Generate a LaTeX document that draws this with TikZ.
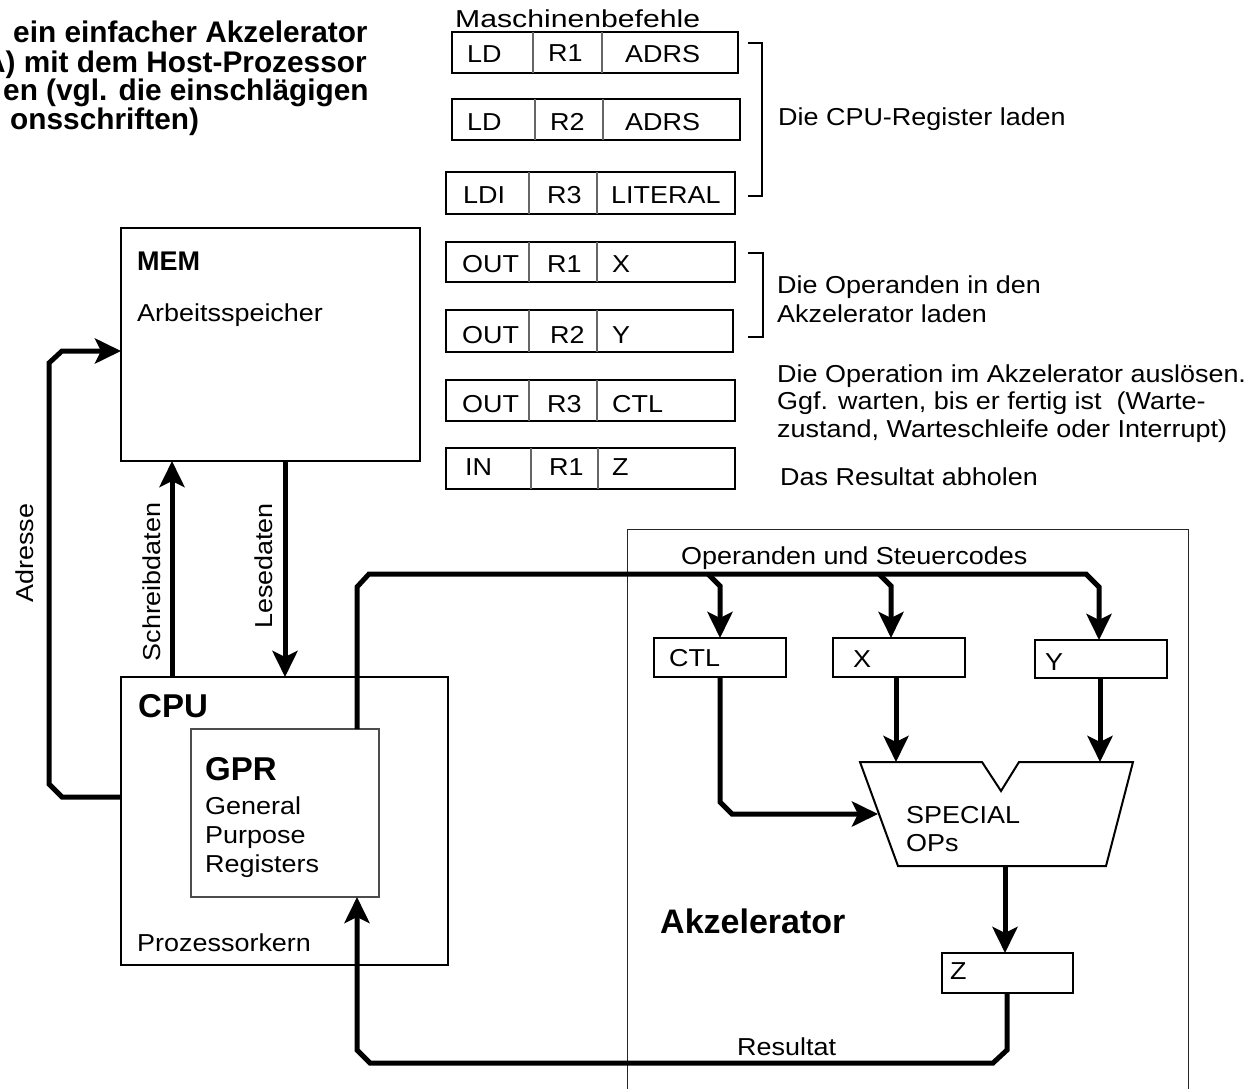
\documentclass[tikz,border=0pt]{standalone}
\usepackage{fontspec}
\setmainfont{Liberation Sans}[FakeStretch=1.1]
\newfontfamily\boldf{Liberation Sans}
\usetikzlibrary{arrows.meta,calc}
\tikzset{
  txt/.style={inner sep=0pt, anchor=base west, font=\fontsize{24.5}{29}\selectfont},
  ttl/.style={inner sep=0pt, anchor=base west, font=\boldf\bfseries\fontsize{29.8}{30}\selectfont},
  bold/.style={inner sep=0pt, anchor=base west, font=\boldf\bfseries\fontsize{#1}{#1}\selectfont},
  bigbox/.style={draw, line width=2pt, inner sep=0pt, outer sep=0pt, anchor=north west},
  instr/.style={draw, line width=2.2pt, inner sep=0pt, outer sep=0pt, anchor=north west},
  reg/.style={draw, line width=2.7pt, inner sep=0pt, outer sep=0pt, anchor=north west, minimum width=132pt, minimum height=39pt},
  divider/.style={line width=1.3pt, draw=black!60},
  bus/.style={line width=5pt, line join=miter},
  arr/.style={bus, -{Stealth[length=26pt,width=25pt,inset=6pt]}},
  brack/.style={line width=2pt},
}
\begin{document}
\begin{tikzpicture}[x=1pt,y=-1pt]
\useasboundingbox (0,0) rectangle (1258,1089);
\fill[white] (0,0) rectangle (1258,1089);
\clip (0,0) rectangle (1258,1089);

% title fragments
\node[ttl] (h1) at (13,43) {ein einfacher Akzelerator};
\node[ttl] (h2) at (-16,73) {A) mit dem Host-Prozessor};
\node[ttl] (h3) at (3,101) {en (vgl. die einschlägigen};
\node[ttl] (h4) at (10,130) {onsschriften)};

% instructions
\node[txt, xscale=1.12, transform shape] (mb) at (455,28) {Maschinenbefehle};
\node[instr, minimum width=286pt, minimum height=41pt] (i1) at (452,32) {};
\node[instr, minimum width=288pt, minimum height=41pt] (i2) at (452,99) {};
\node[instr, minimum width=289pt, minimum height=42pt] (i3) at (446,172) {};
\node[instr, minimum width=289pt, minimum height=40pt] (i4) at (446,242) {};
\node[instr, minimum width=287pt, minimum height=42pt] (i5) at (446,310) {};
\node[instr, minimum width=289pt, minimum height=41pt] (i6) at (446,380) {};
\node[instr, minimum width=289pt, minimum height=41pt] (i7) at (446,448) {};
\foreach \b/\p/\q in {i1/81/150, i2/83/151, i3/83/151, i4/83/151, i5/83/151, i6/83/151, i7/85/152}{
  \draw[divider] ($(\b.north west)+(\p,0)$) -- ($(\b.south west)+(\p,0)$);
  \draw[divider] ($(\b.north west)+(\q,0)$) -- ($(\b.south west)+(\q,0)$);
}
\node[txt] (a1) at (467,63) {LD};
\node[txt] (b1) at (548,62) {R1};
\node[txt] (c1) at (625,63) {ADRS};
\node[txt] (a2) at (467,131) {LD};
\node[txt] (b2) at (550,131) {R2};
\node[txt] (c2) at (625,131) {ADRS};
\node[txt] (a3) at (463,203) {LDI};
\node[txt] (b3) at (547,203) {R3};
\node[txt] (c3) at (611,203) {LITERAL};
\node[txt] (a4) at (462,272) {OUT};
\node[txt] (b4) at (547,272) {R1};
\node[txt] (c4) at (612,272) {X};
\node[txt] (a5) at (462,343) {OUT};
\node[txt] (b5) at (550,343) {R2};
\node[txt] (c5) at (612,343) {Y};
\node[txt] (a6) at (462,412) {OUT};
\node[txt] (b6) at (547,412) {R3};
\node[txt] (c6) at (612,412) {CTL};
\node[txt] (a7) at (465,475) {IN};
\node[txt] (b7) at (549,475) {R1};
\node[txt] (c7) at (612,475) {Z};

\draw[brack] (748,43) -- (762,43) -- (762,196) -- (748,196);
\draw[brack] (748,253) -- (763,253) -- (763,337) -- (748,337);

\node[txt] (d1) at (778,126) {Die CPU-Register laden};
\node[txt] (d2) at (777,293) {Die Operanden in den};
\node[txt] (d3) at (777,322) {Akzelerator laden};
\node[txt] (d4) at (777,382) {Die Operation im Akzelerator auslösen.};
\node[txt] (d5) at (777,409) {Ggf. warten, bis er fertig ist\ \ (Warte-};
\node[txt] (d6) at (777,437) {zustand, Warteschleife oder Interrupt)};
\node[txt] (d7) at (780,485) {Das Resultat abholen};

% accelerator frame
\node[draw, line width=1pt, draw=black!85, inner sep=0pt, outer sep=0pt, anchor=north west,
      minimum width=561pt, minimum height=600pt] (acc) at (627,529) {};

% memory and CPU
\node[bigbox, minimum width=299pt, minimum height=233pt] (mem) at (121,228) {};
\node[bold=27] (memt) at (137,270) {MEM};
\node[txt] (memd) at (137,321) {Arbeitsspeicher};

\node[bigbox, minimum width=327pt, minimum height=288pt] (cpu) at (121,677) {};
\node[bold=33] (cput) at (138,717) {CPU};
\node[txt] (cpud) at (137,951) {Prozessorkern};

\node[draw, line width=1.2pt, draw=black!70, inner sep=0pt, outer sep=0pt, anchor=north west,
      minimum width=188pt, minimum height=168pt] (gpr) at (191,729) {};
\node[bold=33] (gprt) at (205,780) {GPR};
\node[txt] (g1) at (205,814) {General};
\node[txt] (g2) at (205,843) {Purpose};
\node[txt] (g3) at (205,872) {Registers};

% accelerator internals
\node[reg] (ctl) at (654,638) {};
\node[txt] (ctlt) at (669,666) {CTL};
\node[reg] (x) at (833,638) {};
\node[txt] (xt) at (853,667) {X};
\node[reg, minimum height=38pt] (y) at (1035,640) {};
\node[txt] (yt) at (1045,670) {Y};
\node[reg, minimum width=131pt, minimum height=40pt] (z) at (942,953) {};
\node[txt] (zt) at (950,979) {Z};

\draw[line width=2pt] (860,762) -- (982,762) -- (1001,791) -- (1019,762) -- (1133,762)
      -- (1106,866) -- (898,866) -- cycle;
\node[txt] (sp1) at (906,823) {SPECIAL};
\node[txt] (sp2) at (906,851) {OPs};
\coordinate (aluin) at (878,814);
\coordinate (alux) at (896,762);
\coordinate (aluy) at (1100,762);
\coordinate (aluout) at (1005,866);

\node[bold=34] (acct) at (660,933) {Akzelerator};
\node[txt] (opst) at (681,564) {Operanden und Steuercodes};
\node[txt] (rest) at (737,1055) {Resultat};

% connectors
\draw[arr] ($(cpu.north west)+(0,120)$) -- (62,797) -- (49,784) -- (49,363) -- (62,351)
      -- ($(mem.north west)+(0,123)$);
\node[txt, rotate=90, anchor=base] (ladr) at (33,553) {Adresse};

\draw[arr] ($(cpu.north west)+(51,0)$) -- ($(mem.south west)+(51,0)$);
\node[txt, rotate=90, anchor=base] (lsd) at (160,582) {Schreibdaten};
\draw[arr] ($(mem.south west)+(164,0)$) -- ($(cpu.north west)+(164,0)$);
\node[txt, rotate=90, anchor=base] (lld) at (272,566) {Lesedaten};

\coordinate (k1) at (357,587);
\coordinate (k2) at (369,574);
\coordinate (j1) at (708,574);
\coordinate (j2) at (879,574);
\coordinate (k3) at (1086,574);
\coordinate (k4) at (1099,587);
\draw[arr] ($(gpr.north west)+(166,0)$) -- (k1) -- (k2) -- (k3) -- (k4) -- ($(y.north west)+(64,0)$);
\draw[arr] (j1) -- ($(ctl.north)+(0,-52)$) -- (ctl.north);
\draw[arr] (j2) -- ($(x.north west)+(58,-52)$) -- ($(x.north west)+(58,0)$);

\draw[arr] (ctl.south) -- (720,802) -- (732,814) -- (aluin);
\draw[arr] ($(x.south west)+(63,0)$) -- (alux);
\draw[arr] ($(y.south west)+(65,0)$) -- (aluy);
\draw[arr] (aluout) -- ($(z.north west)+(63,0)$);

\draw[arr] ($(z.south west)+(65,0)$) -- (1007,1050) -- (993,1063) -- (370,1063) -- (357,1050)
      -- ($(gpr.south west)+(166,0)$);
\end{tikzpicture}
\end{document}
